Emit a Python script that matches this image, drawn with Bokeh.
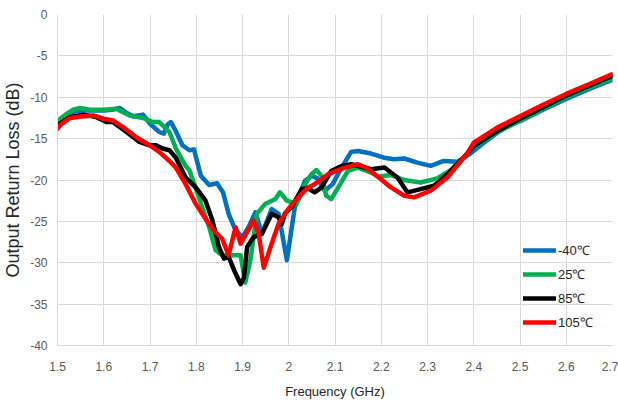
from bokeh.plotting import figure
from bokeh.models import FixedTicker, Legend, LegendItem, Range1d
from bokeh.embed import file_html
from bokeh.resources import INLINE

# ---- data ----
freq_m40 = [1.50, 1.52, 1.54, 1.56, 1.58, 1.60, 1.62, 1.635, 1.65, 1.663, 1.685, 1.70, 1.72, 1.73,
            1.738, 1.745, 1.755, 1.77, 1.785, 1.795, 1.81, 1.828, 1.845, 1.858, 1.87, 1.885, 1.90,
            1.913, 1.928, 1.942, 1.963, 1.978, 1.996, 2.013, 2.035, 2.05, 2.062, 2.078, 2.095,
            2.114, 2.135, 2.15, 2.178, 2.206, 2.228, 2.25, 2.278, 2.307, 2.335, 2.364, 2.39, 2.42,
            2.47, 2.50, 2.55, 2.60, 2.65, 2.70]
rl_m40 = [-13.2, -12.2, -11.7, -11.6, -11.6, -11.6, -11.5, -11.3, -11.9, -12.3, -12.1, -13.2, -14.2, -14.4,
          -13.3, -13.0, -14.0, -15.8, -16.4, -16.3, -19.5, -20.6, -20.4, -21.5, -24.1, -26.1, -26.9,
          -25.7, -23.9, -26.5, -23.5, -24.1, -29.7, -23.3, -20.1, -19.5, -19.8, -21.3, -20.5,
          -18.5, -16.6, -16.5, -16.8, -17.3, -17.5, -17.4, -17.9, -18.3, -17.7, -17.8, -16.9, -15.6,
          -13.5, -12.9, -11.5, -10.2, -9.0, -7.9]

freq_25 = [1.50, 1.506, 1.52, 1.534, 1.549, 1.57, 1.60, 1.627, 1.656, 1.685, 1.706, 1.72, 1.742, 1.756,
           1.777, 1.785, 1.799, 1.813, 1.828, 1.842, 1.856, 1.878, 1.896, 1.906, 1.917, 1.931, 1.949,
           1.971, 1.981, 1.996, 2.017, 2.035, 2.049, 2.06, 2.071, 2.081, 2.092, 2.107, 2.128, 2.15,
           2.178, 2.193, 2.221, 2.25, 2.285, 2.321, 2.35, 2.371, 2.40, 2.45, 2.50, 2.55, 2.60, 2.65, 2.70]
rl_25 = [-13.3, -12.6, -12.0, -11.5, -11.3, -11.5, -11.5, -11.4, -12.2, -12.5, -13.0, -13.0, -14.2, -16.2,
         -18.3, -18.8, -21.0, -23.3, -25.7, -28.5, -29.1, -29.1, -29.1, -32.4, -29.7, -24.1, -22.9,
         -22.3, -21.5, -22.5, -22.9, -20.6, -19.3, -18.8, -19.5, -21.9, -22.3, -20.9, -18.9, -18.5,
         -19.1, -19.6, -19.4, -20.0, -20.3, -19.8, -18.8, -17.7, -16.0, -14.3, -12.8, -11.4, -10.0, -8.8, -7.7]

freq_85 = [1.50, 1.505, 1.527, 1.556, 1.584, 1.606, 1.62, 1.649, 1.677, 1.699, 1.713, 1.727, 1.742, 1.756,
           1.777, 1.799, 1.82, 1.835, 1.849, 1.86, 1.87, 1.885, 1.896, 1.903, 1.91, 1.924, 1.942, 1.963,
           1.978, 1.985, 1.992, 2.006, 2.028, 2.042, 2.056, 2.071, 2.092, 2.114, 2.135, 2.178, 2.207,
           2.235, 2.257, 2.285, 2.314, 2.343, 2.378, 2.40, 2.45, 2.50, 2.55, 2.60, 2.65, 2.70]
rl_85 = [-13.5, -13.2, -12.4, -12.1, -12.4, -13.0, -13.0, -14.2, -15.4, -15.8, -15.8, -16.2, -16.4, -17.3,
         -19.7, -20.9, -22.5, -24.9, -28.1, -29.5, -29.3, -31.3, -32.6, -31.8, -28.1, -26.9, -26.5, -24.1,
         -24.5, -25.3, -24.0, -23.3, -21.1, -21.0, -21.5, -20.9, -18.9, -18.3, -18.1, -18.7, -18.5,
         -19.7, -21.5, -21.1, -20.7, -19.3, -17.3, -15.9, -14.1, -12.6, -11.2, -9.8, -8.6, -7.4]

freq_105 = [1.50, 1.505, 1.527, 1.556, 1.577, 1.60, 1.62, 1.642, 1.67, 1.699, 1.72, 1.742, 1.756, 1.777,
            1.799, 1.82, 1.838, 1.856, 1.87, 1.885, 1.896, 1.903, 1.924, 1.935, 1.946, 1.963, 1.978,
            1.999, 2.021, 2.042, 2.056, 2.085, 2.121, 2.15, 2.167, 2.193, 2.221, 2.25, 2.271, 2.307,
            2.343, 2.386, 2.40, 2.45, 2.50, 2.55, 2.60, 2.65, 2.70]
rl_105 = [-13.8, -13.4, -12.5, -12.3, -12.2, -12.6, -12.8, -13.6, -14.8, -15.8, -16.6, -17.7, -18.5, -20.5,
          -22.9, -24.7, -26.1, -27.1, -29.1, -25.7, -27.7, -27.0, -24.9, -26.5, -30.6, -27.7, -25.3,
          -23.5, -22.1, -20.9, -20.5, -19.3, -18.5, -18.1, -18.5, -19.6, -20.9, -21.9, -22.1, -21.3,
          -19.7, -16.8, -15.5, -13.7, -12.3, -10.9, -9.6, -8.4, -7.2]

series_labels = ["-40\u2103", "25\u2103", "85\u2103", "105\u2103"]
series_colors = ["#0070C0", "#00B050", "#000000", "#FF0000"]

x_ticks = [1.5, 1.6, 1.7, 1.8, 1.9, 2.0, 2.1, 2.2, 2.3, 2.4, 2.5, 2.6, 2.7]
x_tick_labels = ["1.5", "1.6", "1.7", "1.8", "1.9", "2", "2.1", "2.2", "2.3", "2.4", "2.5", "2.6", "2.7"]
y_ticks = [0, -5, -10, -15, -20, -25, -30, -35, -40]
y_tick_labels = ["0", "-5", "-10", "-15", "-20", "-25", "-30", "-35", "-40"]

FONT = "Liberation Sans"
GRID = "#d9d9d9"
TICK_COLOR = "#595959"

p = figure(width=618, height=408, output_backend="svg", toolbar_location=None,
           x_range=Range1d(1.5, 2.7), y_range=Range1d(-40, 0),
           min_border_left=54, min_border_right=6, min_border_top=14, min_border_bottom=63)
p.outline_line_color = None
p.background_fill_color = "white"
p.border_fill_color = "white"

for ax in (p.xaxis[0], p.yaxis[0]):
    ax.axis_line_color = GRID
    ax.major_tick_line_color = None
    ax.minor_tick_line_color = None
    ax.major_tick_out = 0
    ax.major_tick_in = 0
    ax.major_label_text_font = FONT
    ax.major_label_text_font_size = "12px"
    ax.major_label_text_color = TICK_COLOR
    ax.axis_label_text_font = FONT
    ax.axis_label_text_font_style = "normal"
    ax.axis_label_text_color = "#262626"

p.xaxis.axis_label_text_font_size = "13px"
p.yaxis.axis_label_text_font_size = "18px"
p.xaxis.ticker = FixedTicker(ticks=x_ticks)
p.xaxis.major_label_overrides = dict(zip(x_ticks, x_tick_labels))
p.yaxis.ticker = FixedTicker(ticks=y_ticks)
p.yaxis.major_label_overrides = dict(zip(y_ticks, y_tick_labels))
p.xaxis.major_label_standoff = 16
p.yaxis.major_label_standoff = 10
p.xaxis.axis_label = "Frequency (GHz)"
p.yaxis.axis_label = "Output Return Loss (dB)"
p.xaxis.axis_label_standoff = 10
p.yaxis.axis_label_standoff = 4

p.xgrid.grid_line_color = GRID
p.ygrid.grid_line_color = GRID
p.xgrid.grid_line_width = 1
p.ygrid.grid_line_width = 1

all_f = [freq_m40, freq_25, freq_85, freq_105]
all_r = [rl_m40, rl_25, rl_85, rl_105]
items = []
for f, r, lab, col in zip(all_f, all_r, series_labels, series_colors):
    rr = p.line(f, r, line_color=col, line_width=4.5, line_join="round", line_cap="round")
    items.append(LegendItem(label=lab, renderers=[rr]))

legend = Legend(items=items, location=(466, 13), padding=0, margin=0,
                glyph_width=33, glyph_height=20, label_height=20, spacing=4,
                label_standoff=2, label_text_font=FONT, label_text_font_size="13px",
                label_text_color="#262626", background_fill_alpha=0, border_line_alpha=0)
p.add_layout(legend, "center")

open("out.html", "w").write(file_html(p, INLINE))
